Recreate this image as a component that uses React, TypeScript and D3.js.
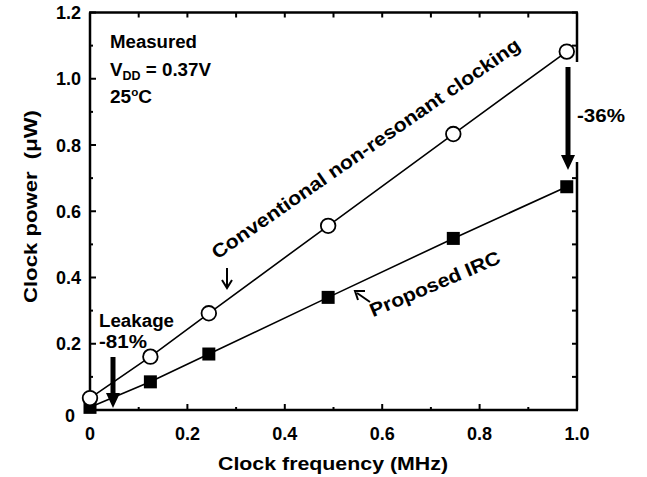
import React from 'react';
import * as d3 from 'd3';

// Values
const frequencies = [0, 0.124, 0.244, 0.489, 0.746, 0.979];
const conventionalPower = [0.036, 0.161, 0.292, 0.556, 0.833, 1.082];
const proposedPower = [0.008, 0.085, 0.169, 0.34, 0.518, 0.674];
const xTickValues = [0, 0.2, 0.4, 0.6, 0.8, 1.0];
const yTickValues = [0, 0.2, 0.4, 0.6, 0.8, 1.0, 1.2];
const minorTickValues = [0.1, 0.3, 0.5, 0.7, 0.9, 1.1];

const FONT = "'Liberation Sans', Arial, Helvetica, sans-serif";

const W = 647;
const H = 477;
const left = 90;
const right = 577;
const top = 12.5;
const bottom = 410;

const App = () => {
  const x = d3.scaleLinear().domain([0, 1]).range([left, right]);
  const y = d3.scaleLinear().domain([0, 1.2]).range([bottom, top]);

  const line = d3
    .line<number>()
    .x((_, i) => x(frequencies[i]))
    .y((d) => y(d));

  const fmt = (d: number) => (d === 0 ? '0' : d.toFixed(1));
  const axisW = 2.5;
  // the right frame is broken where the -36% arrow sits
  const gapTop = 62;
  const gapBottom = 162;
  const outsideGap = (v: number) => y(v) < gapTop || y(v) > gapBottom;

  return (
    <svg
      width={W}
      height={H}
      style={{ position: 'absolute', left: 0, top: 0, background: '#fff' }}
      fontFamily={FONT}
      fontWeight="bold"
    >
      <rect x={0} y={0} width={W} height={H} fill="#fff" />

      {/* frame */}
      <line x1={left} y1={top} x2={left} y2={bottom} stroke="#000" strokeWidth={axisW} />
      <line x1={left - 1} y1={bottom} x2={right + 1} y2={bottom} stroke="#000" strokeWidth={axisW} />
      <line x1={left - 1} y1={top} x2={right + 1} y2={top} stroke="#000" strokeWidth={axisW} />
      <line x1={right} y1={top} x2={right} y2={gapTop} stroke="#000" strokeWidth={axisW} />
      <line x1={right} y1={gapBottom} x2={right} y2={bottom} stroke="#000" strokeWidth={axisW} />

      {/* x ticks */}
      {xTickValues.map((d) => (
        <g key={'xt' + d}>
          <line x1={x(d)} x2={x(d)} y1={bottom} y2={bottom - 6} stroke="#000" strokeWidth={2} />
          <line x1={x(d)} x2={x(d)} y1={top} y2={top + 5} stroke="#000" strokeWidth={2} />
          <text x={x(d)} y={440} textAnchor="middle" fontSize={18}>
            {fmt(d)}
          </text>
        </g>
      ))}
      {minorTickValues.filter((d) => d < 1).map((d) => (
        <g key={'xm' + d}>
          <line x1={x(d)} x2={x(d)} y1={bottom} y2={bottom - 3} stroke="#000" strokeWidth={2} />
          <line x1={x(d)} x2={x(d)} y1={top} y2={top + 5} stroke="#000" strokeWidth={2} />
        </g>
      ))}

      {/* y ticks */}
      {yTickValues.map((d) => (
        <g key={'yt' + d}>
          <line x1={left} x2={left + 6} y1={y(d)} y2={y(d)} stroke="#000" strokeWidth={2} />
          {outsideGap(d) && (
            <line x1={right} x2={right - 5} y1={y(d)} y2={y(d)} stroke="#000" strokeWidth={2} />
          )}
          <text x={d === 0 ? 75 : 81} y={y(d) + (d === 0 ? 12 : 6.5)} textAnchor="end" fontSize={18}>
            {fmt(d)}
          </text>
        </g>
      ))}
      {minorTickValues.map((d) => (
        <g key={'ym' + d}>
          <line x1={left} x2={left + 3} y1={y(d)} y2={y(d)} stroke="#000" strokeWidth={2} />
          {outsideGap(d) && (
            <line x1={right} x2={right - 5} y1={y(d)} y2={y(d)} stroke="#000" strokeWidth={2} />
          )}
        </g>
      ))}

      {/* axis titles */}
      <text
        x={333}
        y={470}
        textAnchor="middle"
        fontSize={19}
        textLength={230}
        lengthAdjust="spacingAndGlyphs"
      >
        Clock frequency (MHz)
      </text>
      <text
        transform="translate(37, 206.5) rotate(-90)"
        textAnchor="middle"
        fontSize={19}
        textLength={193}
        lengthAdjust="spacingAndGlyphs"
        style={{ whiteSpace: 'pre' }}
      >
        Clock power  (μW)
      </text>

      {/* series lines */}
      <path d={line(conventionalPower) ?? ''} fill="none" stroke="#000" strokeWidth={1.6} />
      <path d={line(proposedPower) ?? ''} fill="none" stroke="#000" strokeWidth={1.6} />

      {/* markers */}
      {proposedPower.map((d, i) => (
        <rect
          key={'sq' + i}
          x={x(frequencies[i]) - 6.5}
          y={y(d) - 6.5}
          width={13}
          height={13}
          fill="#000"
        />
      ))}
      {conventionalPower.map((d, i) => (
        <circle
          key={'c' + i}
          cx={x(frequencies[i])}
          cy={y(d)}
          r={7.3}
          fill="#fff"
          stroke="#000"
          strokeWidth={1.8}
        />
      ))}

      {/* inset text */}
      <text x={110} y={48} fontSize={18} textLength={87} lengthAdjust="spacingAndGlyphs">
        Measured
      </text>
      <text x={110} y={76} fontSize={18} textLength={101} lengthAdjust="spacingAndGlyphs">
        V<tspan fontSize={12} dy={4}>DD</tspan>
        <tspan dy={-4}> = 0.37V</tspan>
      </text>
      <text x={110} y={103} fontSize={18} textLength={42} lengthAdjust="spacingAndGlyphs">
        25<tspan fontSize={11} dy={-7}>o</tspan>
        <tspan dy={7}>C</tspan>
      </text>

      {/* Conventional label */}
      <text
        transform="translate(369.5, 154) rotate(-34.8)"
        textAnchor="middle"
        fontSize={19}
        textLength={371}
        lengthAdjust="spacingAndGlyphs"
      >
        Conventional non-resonant clocking
      </text>
      <line x1={227} y1={268} x2={227} y2={286} stroke="#000" strokeWidth={2} />
      <path d="M222,280 L227,288 L232,280" fill="none" stroke="#000" strokeWidth={2} />

      {/* Proposed IRC label */}
      <text
        transform="translate(437.5, 290) rotate(-23)"
        textAnchor="middle"
        fontSize={19}
        textLength={140}
        lengthAdjust="spacingAndGlyphs"
      >
        Proposed IRC
      </text>
      <line x1={370} y1={302} x2={357} y2={293} stroke="#000" strokeWidth={2} />
      <path d="M358,300 L355,291 L365,291" fill="none" stroke="#000" strokeWidth={2} />

      {/* Leakage */}
      <text x={99} y={327} fontSize={18} textLength={75} lengthAdjust="spacingAndGlyphs">
        Leakage
      </text>
      <text x={99} y={348} fontSize={18} textLength={48} lengthAdjust="spacingAndGlyphs">
        -81%
      </text>
      <line x1={113} y1={357} x2={113} y2={395} stroke="#000" strokeWidth={5} />
      <path d="M106,393 L120,393 L113,408 Z" fill="#000" />

      {/* -36% */}
      <line x1={568} y1={67} x2={568} y2={158} stroke="#000" strokeWidth={5} />
      <path d="M561,155 L575,155 L568,170 Z" fill="#000" />
      <text x={577} y={122} fontSize={18} textLength={48} lengthAdjust="spacingAndGlyphs">
        -36%
      </text>
    </svg>
  );
};

export default App;
